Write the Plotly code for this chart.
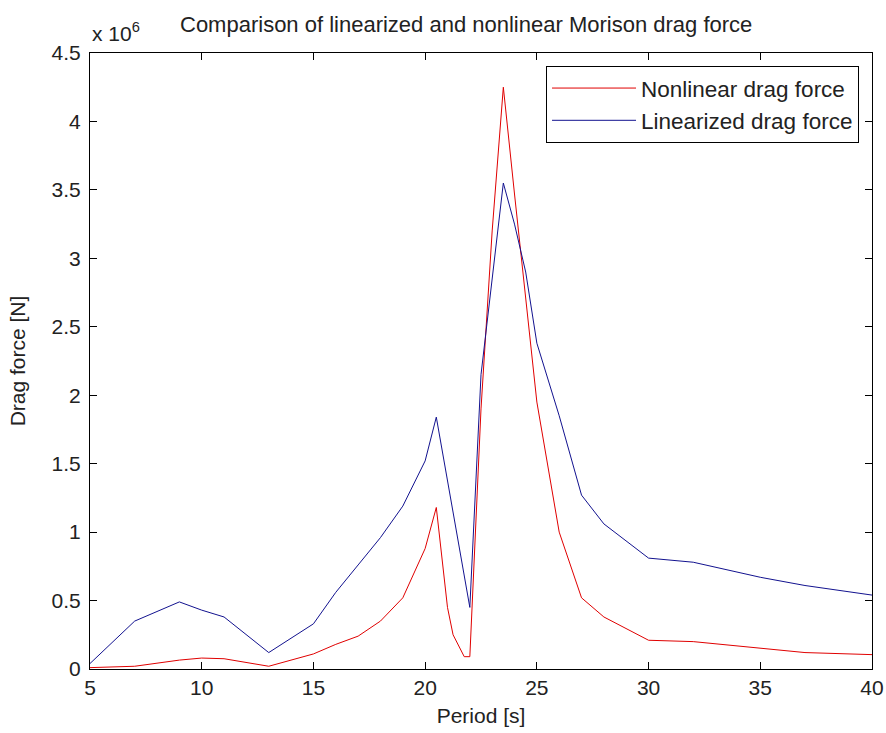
import plotly.graph_objects as go

# Data (drag force in units of 1e6 N)
period_nonlinear = [5, 7, 9, 10, 11, 13, 15, 16, 17, 18, 19, 20, 20.5, 21, 21.25, 21.75, 22,
                    22.5, 23, 23.5, 24, 24.5, 25, 26, 27, 28, 30, 32, 35, 37, 40]
drag_nonlinear = [0.01, 0.02, 0.065, 0.08, 0.075, 0.02, 0.11, 0.18, 0.24, 0.35, 0.52, 0.88, 1.18,
                  0.45, 0.25, 0.09, 0.09, 1.9, 3.2, 4.25, 3.47, 2.7, 1.95, 1.0, 0.52, 0.38, 0.21,
                  0.2, 0.15, 0.12, 0.105]

period_linearized = [5, 7, 9, 10, 11, 13, 15, 16, 17, 18, 19, 20, 20.5, 21, 21.5, 22,
                     22.5, 23, 23.5, 24, 24.5, 25, 26, 27, 28, 30, 32, 35, 37, 40]
drag_linearized = [0.04, 0.35, 0.49, 0.43, 0.38, 0.12, 0.33, 0.56, 0.76, 0.96, 1.19, 1.52, 1.84,
                   1.38, 0.91, 0.45, 2.15, 2.87, 3.55, 3.25, 2.9, 2.38, 1.85, 1.27, 1.06, 0.81,
                   0.78, 0.67, 0.61, 0.54]

x_ticks = [5, 10, 15, 20, 25, 30, 35, 40]
y_ticks = [0, 0.5, 1, 1.5, 2, 2.5, 3, 3.5, 4, 4.5]
y_tick_labels = ["0", "0.5", "1", "1.5", "2", "2.5", "3", "3.5", "4", "4.5"]

FONT = "Liberation Sans, Arial, sans-serif"
FS = 22
TXT = "#222222"

fig = go.Figure()
fig.add_trace(go.Scatter(x=period_nonlinear, y=drag_nonlinear, mode="lines",
                         name="Nonlinear drag force", legendgroup="a",
                         line=dict(color="#e00000", width=1)))
fig.add_trace(go.Scatter(x=period_linearized, y=drag_linearized, mode="lines",
                         name="Linearized drag force", legendgroup="b",
                         line=dict(color="#12128f", width=1)))

W, H = 886, 733
L, R, T, B = 90, 14, 53, 64

fig.update_layout(
    width=W, height=H,
    margin=dict(l=L, r=R, t=T, b=B, pad=0, autoexpand=False),
    paper_bgcolor="white", plot_bgcolor="white",
    font=dict(family=FONT, size=FS, color=TXT),
    showlegend=True,
    legend=dict(x=0.9834, y=0.979, xanchor="right", yanchor="top",
                bgcolor="white", bordercolor="black", borderwidth=1,
                font=dict(family=FONT, size=22.5, color=TXT),
                itemwidth=84, tracegroupgap=3, traceorder="normal"),
    xaxis=dict(range=[5, 40], tickvals=x_ticks, ticks="inside", ticklen=7,
               tickcolor="black", showline=True, linecolor="black", linewidth=1,
               mirror="ticks", showgrid=False, zeroline=False, automargin=False,
               tickfont=dict(family=FONT, size=21, color=TXT),
               title=dict(text="Period [s]", standoff=10,
                          font=dict(family=FONT, size=21, color=TXT))),
    yaxis=dict(range=[0, 4.5], tickvals=y_ticks, ticktext=y_tick_labels,
               ticks="inside", ticklen=7, tickcolor="black", showline=True,
               linecolor="black", linewidth=1, mirror="ticks", showgrid=False,
               zeroline=False, ticklabelstandoff=4, automargin=False,
               tickfont=dict(family=FONT, size=21, color=TXT),
               title=dict(text="Drag force [N]", standoff=20,
                          font=dict(family=FONT, size=21, color=TXT))),
    annotations=[
        dict(text="Comparison of linearized and nonlinear Morison drag force",
             xref="paper", yref="paper", x=0.481, y=1.0, xanchor="center",
             yanchor="bottom", yshift=14, showarrow=False,
             font=dict(family=FONT, size=FS, color=TXT)),
        dict(text="x 10<sup>6</sup>", xref="paper", yref="paper", x=0.0,
             y=1.0, xanchor="left", yanchor="bottom", yshift=6, showarrow=False,
             font=dict(family=FONT, size=21, color=TXT)),
    ],
)

fig.write_html("out.html")
